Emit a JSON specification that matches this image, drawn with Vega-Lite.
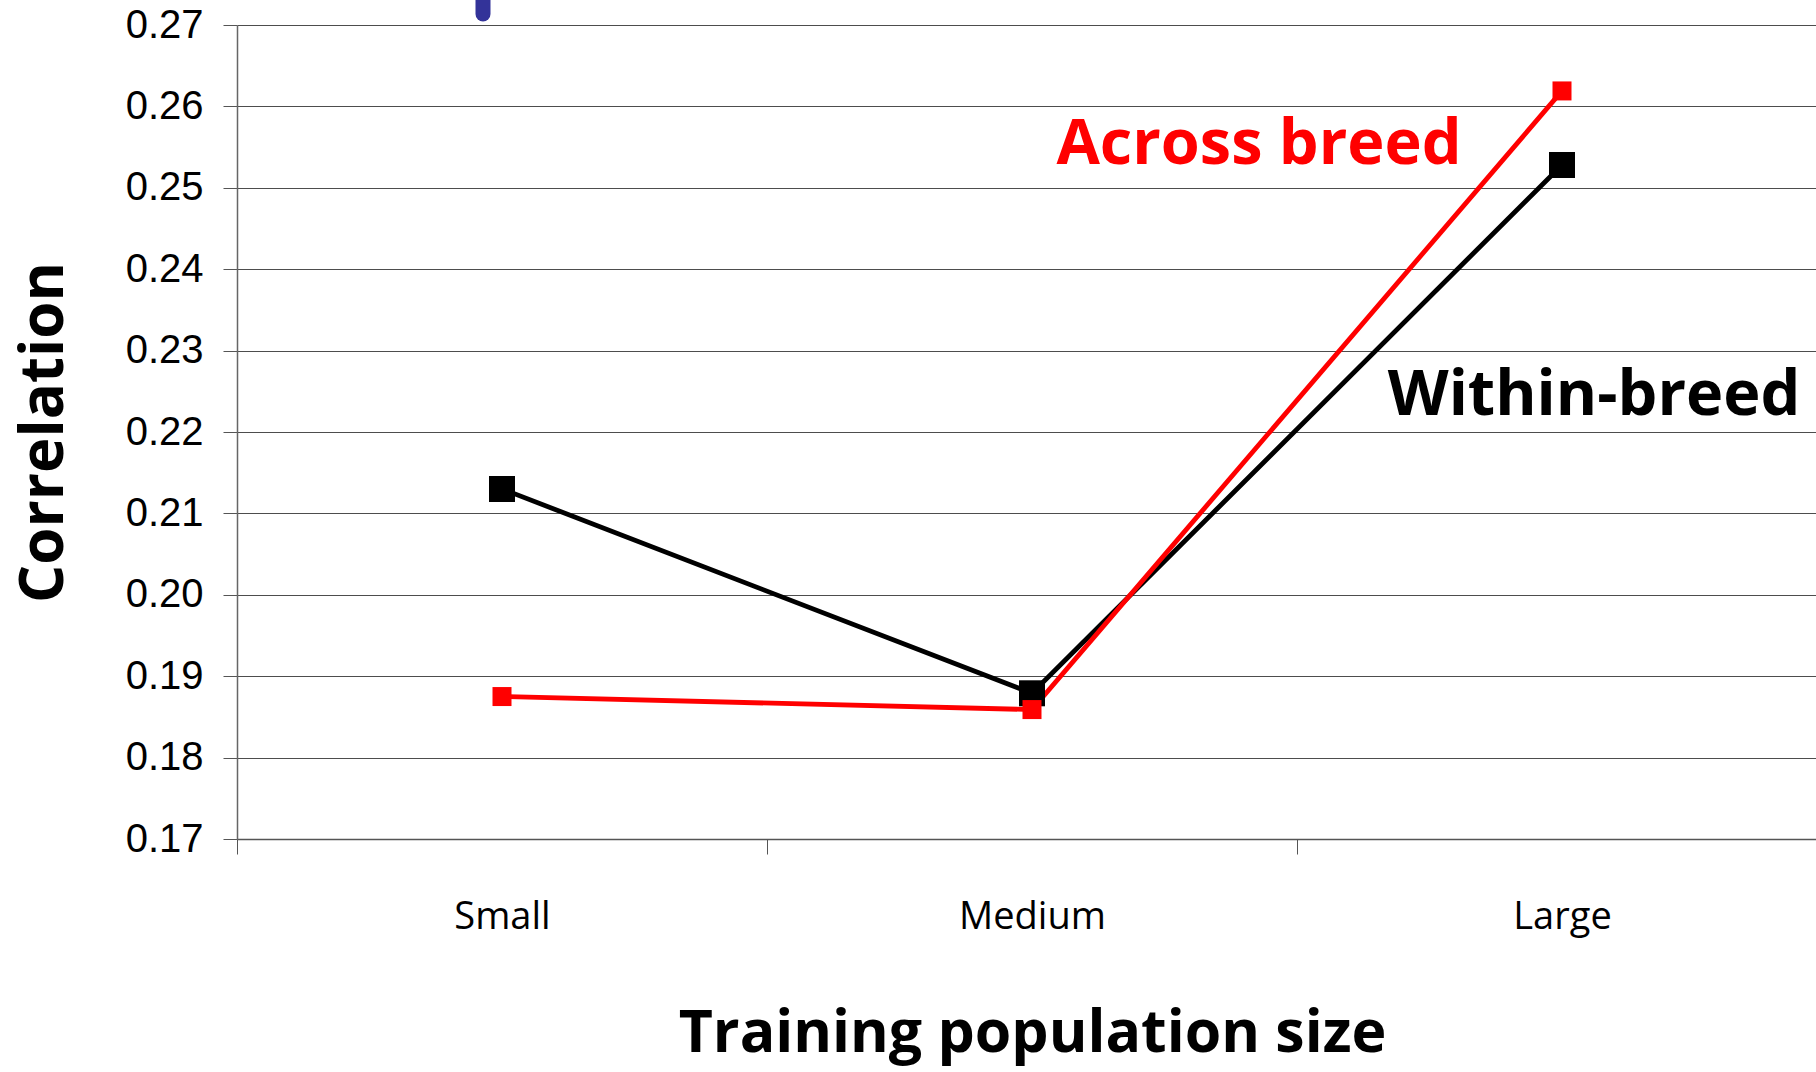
{
  "$schema": "https://vega.github.io/schema/vega-lite/v6.json",
  "autosize": {"type": "none"},
  "padding": {"left": 237, "top": 25, "right": 0, "bottom": 233},
  "width": 1579,
  "height": 814,
  "background": "white",
  "config": {
    "view": {"stroke": null},
    "axis": {"labelColor": "#000000", "titleColor": "#000000"}
  },
  "datasets": {
    "main": [
      {"size": "Small", "series": "Within-breed", "corr": 0.2130},
      {"size": "Medium", "series": "Within-breed", "corr": 0.1879},
      {"size": "Large", "series": "Within-breed", "corr": 0.2528},
      {"size": "Small", "series": "Across breed", "corr": 0.1875},
      {"size": "Medium", "series": "Across breed", "corr": 0.1859},
      {"size": "Large", "series": "Across breed", "corr": 0.2619}
    ],
    "fragment": [
      {"size": "Small", "top": 0.2760, "bottom": 0.27135}
    ],
    "notes": [
      {"label": "Across breed", "series": "Across breed", "size": "Large", "corr": 0.2553},
      {"label": "Within-breed", "series": "Within-breed", "size": "Large", "corr": 0.2244}
    ]
  },
  "encoding": {
    "x": {
      "field": "size", "type": "nominal", "sort": ["Small", "Medium", "Large"],
      "scale": {"domain": ["Small", "Medium", "Large"], "range": [0, 1590], "paddingInner": 0, "paddingOuter": 0},
      "axis": {
        "title": "Training population size",
        "titleFont": "Open Sans", "titleFontSize": 59, "titleFontWeight": "bold",
        "titlePadding": 68,
        "labelFont": "Open Sans", "labelFontSize": 38, "labelAngle": 0,
        "labelPadding": 44,
        "tickBand": "extent", "tickSize": 15, "tickColor": "#555555",
        "domainColor": "#555555", "domainWidth": 1.5, "grid": false
      }
    },
    "y": {
      "field": "corr", "type": "quantitative",
      "scale": {"domain": [0.17, 0.27], "nice": false, "zero": false},
      "axis": {
        "title": "Correlation",
        "titleFont": "Open Sans", "titleFontSize": 60, "titleFontWeight": "bold",
        "titlePadding": 50,
        "values": [0.17, 0.18, 0.19, 0.20, 0.21, 0.22, 0.23, 0.24, 0.25, 0.26, 0.27],
        "format": ".2f",
        "labelFont": "Liberation Sans", "labelFontSize": 40, "labelPadding": 20,
        "tickSize": 14, "tickColor": "#555555",
        "domainColor": "#666666", "domainWidth": 1.5,
        "grid": true, "gridColor": "#4d4d4d", "gridWidth": 1.2
      }
    }
  },
  "layer": [
    {
      "data": {"name": "fragment"},
      "mark": {"type": "rule", "color": "#333399", "strokeWidth": 15, "strokeCap": "round", "xOffset": -19, "clip": false},
      "encoding": {
        "y": {"field": "top", "type": "quantitative"},
        "y2": {"field": "bottom"}
      }
    },
    {
      "data": {"name": "main"},
      "mark": {"type": "line", "strokeWidth": 4.8},
      "encoding": {
        "color": {"field": "series", "type": "nominal",
          "scale": {"domain": ["Within-breed", "Across breed"], "range": ["#000000", "#ff0000"]},
          "legend": null}
      }
    },
    {
      "data": {"name": "main"},
      "mark": {"type": "point", "shape": "square", "filled": true, "opacity": 1},
      "encoding": {
        "color": {"field": "series", "type": "nominal", "legend": null},
        "size": {"field": "series", "type": "nominal",
          "scale": {"domain": ["Within-breed", "Across breed"], "range": [676, 361]},
          "legend": null}
      }
    },
    {
      "data": {"name": "notes"},
      "transform": [{"filter": "datum.label == 'Across breed'"}],
      "mark": {"type": "text", "font": "Open Sans", "fontSize": 63, "fontWeight": "bold", "align": "center", "baseline": "middle", "dx": -303},
      "encoding": {
        "text": {"field": "label"},
        "color": {"field": "series", "type": "nominal", "legend": null}
      }
    },
    {
      "data": {"name": "notes"},
      "transform": [{"filter": "datum.label == 'Within-breed'"}],
      "mark": {"type": "text", "font": "Open Sans", "fontSize": 63, "fontWeight": "bold", "align": "center", "baseline": "middle", "dx": 32},
      "encoding": {
        "text": {"field": "label"},
        "color": {"field": "series", "type": "nominal", "legend": null}
      }
    }
  ]
}
